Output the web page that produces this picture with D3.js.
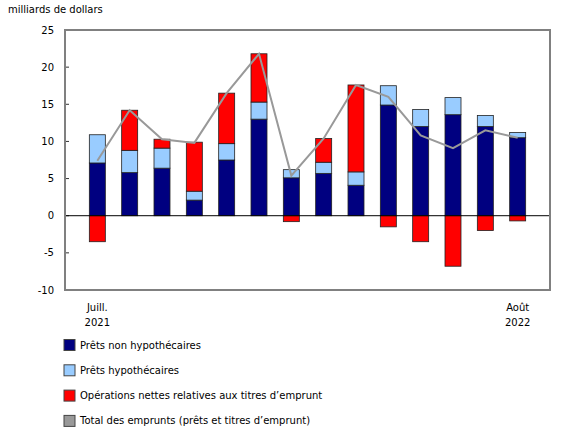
<html>

<head>
    <meta charset="utf-8">
    <script src="https://d3js.org/d3.v7.min.js"></script>
    <style>
        body { margin: 0; background: #fff; }
        text { font-family: "DejaVu Sans", Verdana, sans-serif; font-size: 10px; fill: #000; }
    </style>
</head>

<body>
    <div id="chart"></div>
    <script>
        // months from July 2021 to August 2022
        var months = ["2021-07", "2021-08", "2021-09", "2021-10", "2021-11", "2021-12", "2022-01",
            "2022-02", "2022-03", "2022-04", "2022-05", "2022-06", "2022-07", "2022-08"];
        var tickLabels = { "2021-07": ["Juill.", "2021"], "2022-08": ["Août", "2022"] };

        // billions of dollars
        var nonHypo = [7.1, 5.8, 6.4, 2.1, 7.5, 13.0, 5.1, 5.7, 4.1, 14.9, 12.0, 13.6, 12.0, 10.5];
        var hypo = [3.8, 3.0, 2.7, 1.2, 2.2, 2.3, 1.1, 1.5, 1.8, 2.6, 2.3, 2.3, 1.5, 0.7];
        var titres = [-3.5, 5.4, 1.2, 6.6, 6.8, 6.5, -0.8, 3.2, 11.7, -1.5, -3.5, -6.8, -2.0, -0.7];
        var total = [7.4, 14.2, 10.3, 9.8, 16.5, 21.8, 5.4, 10.4, 17.6, 16.0, 10.8, 9.1, 11.5, 10.5];

        var yTicks = [-10, -5, 0, 5, 10, 15, 20, 25];

        var seriesNames = ["Prêts non hypothécaires", "Prêts hypothécaires",
            "Opérations nettes relatives aux titres d’emprunt", "Total des emprunts (prêts et titres d’emprunt)"];
        var colors = ["#000080", "#99ccff", "#ff0000", "#999999"];

        var width = 580, height = 435;
        var plotLeft = 65, plotRight = 550, plotTop = 30, plotBottom = 290;

        var svg = d3.select("#chart").append("svg")
            .attr("width", width)
            .attr("height", height);

        var x = d3.scalePoint()
            .domain(months)
            .range([plotLeft, plotRight])
            .padding(1);

        var y = d3.scaleLinear()
            .domain([-10, 25])
            .range([plotBottom, plotTop]);

        // table for the stack
        var table = months.map(function (m, i) {
            return { month: m, a: nonHypo[i], b: hypo[i], c: titres[i] };
        });
        var stacked = d3.stack()
            .keys(["a", "b", "c"])
            .offset(d3.stackOffsetDiverging)(table);

        svg.append("text")
            .attr("x", 8)
            .attr("y", 13)
            .text("milliards de dollars");

        // y axis ticks and labels
        svg.append("g")
            .selectAll("line")
            .data(yTicks)
            .enter()
            .append("line")
            .attr("x1", plotLeft)
            .attr("x2", plotLeft + 4)
            .attr("y1", function (d) { return y(d); })
            .attr("y2", function (d) { return y(d); })
            .attr("stroke", "#333")
            .attr("stroke-width", 1);

        svg.append("g")
            .selectAll("text")
            .data(yTicks)
            .enter()
            .append("text")
            .attr("x", 54)
            .attr("y", function (d) { return y(d); })
            .attr("dy", "0.35em")
            .attr("text-anchor", "end")
            .text(function (d) { return d; });

        // bars
        var barW = 16;
        svg.append("g")
            .selectAll("g")
            .data(stacked)
            .enter()
            .append("g")
            .attr("fill", function (d, i) { return colors[i]; })
            .selectAll("rect")
            .data(function (d) { return d; })
            .enter()
            .append("rect")
            .attr("x", function (d) { return x(d.data.month) - barW / 2; })
            .attr("width", barW)
            .attr("y", function (d) { return y(Math.max(d[0], d[1])); })
            .attr("height", function (d) { return Math.abs(y(d[0]) - y(d[1])); })
            .attr("stroke", "#222")
            .attr("stroke-width", 0.8);

        // zero line
        svg.append("line")
            .attr("x1", plotLeft)
            .attr("x2", plotRight)
            .attr("y1", y(0))
            .attr("y2", y(0))
            .attr("stroke", "#000")
            .attr("stroke-width", 1);

        // total line
        var line = d3.line()
            .x(function (d, i) { return x(months[i]); })
            .y(function (d) { return y(d); });

        svg.append("path")
            .datum(total)
            .attr("d", line)
            .attr("fill", "none")
            .attr("stroke", colors[3])
            .attr("stroke-width", 2);

        // frame
        svg.append("rect")
            .attr("x", plotLeft)
            .attr("y", plotTop)
            .attr("width", plotRight - plotLeft)
            .attr("height", plotBottom - plotTop)
            .attr("fill", "none")
            .attr("stroke", "#808080")
            .attr("stroke-width", 2);

        // x labels (first and last month)
        var labelled = months.filter(function (m) { return tickLabels[m]; });
        var xl = svg.append("g")
            .selectAll("text")
            .data(labelled)
            .enter()
            .append("text")
            .attr("text-anchor", "middle")
            .attr("x", function (d) { return x(d); })
            .attr("y", 311);
        xl.append("tspan")
            .attr("x", function (d) { return x(d); })
            .text(function (d) { return tickLabels[d][0]; });
        xl.append("tspan")
            .attr("x", function (d) { return x(d); })
            .attr("dy", 15)
            .text(function (d) { return tickLabels[d][1]; });

        // legend
        var legend = svg.append("g")
            .selectAll("g")
            .data(seriesNames)
            .enter()
            .append("g")
            .attr("transform", function (d, i) {
                return "translate(64," + (345 + i * 25.3) + ")";
            });

        legend.append("rect")
            .attr("x", 0)
            .attr("y", -5.5)
            .attr("width", 11)
            .attr("height", 11)
            .attr("fill", function (d, i) { return colors[i]; })
            .attr("stroke", "#444")
            .attr("stroke-width", 1);

        legend.append("text")
            .attr("x", 16)
            .attr("y", 0)
            .attr("dy", "0.35em")
            .text(function (d) { return d; });
    </script>
</body>

</html>
